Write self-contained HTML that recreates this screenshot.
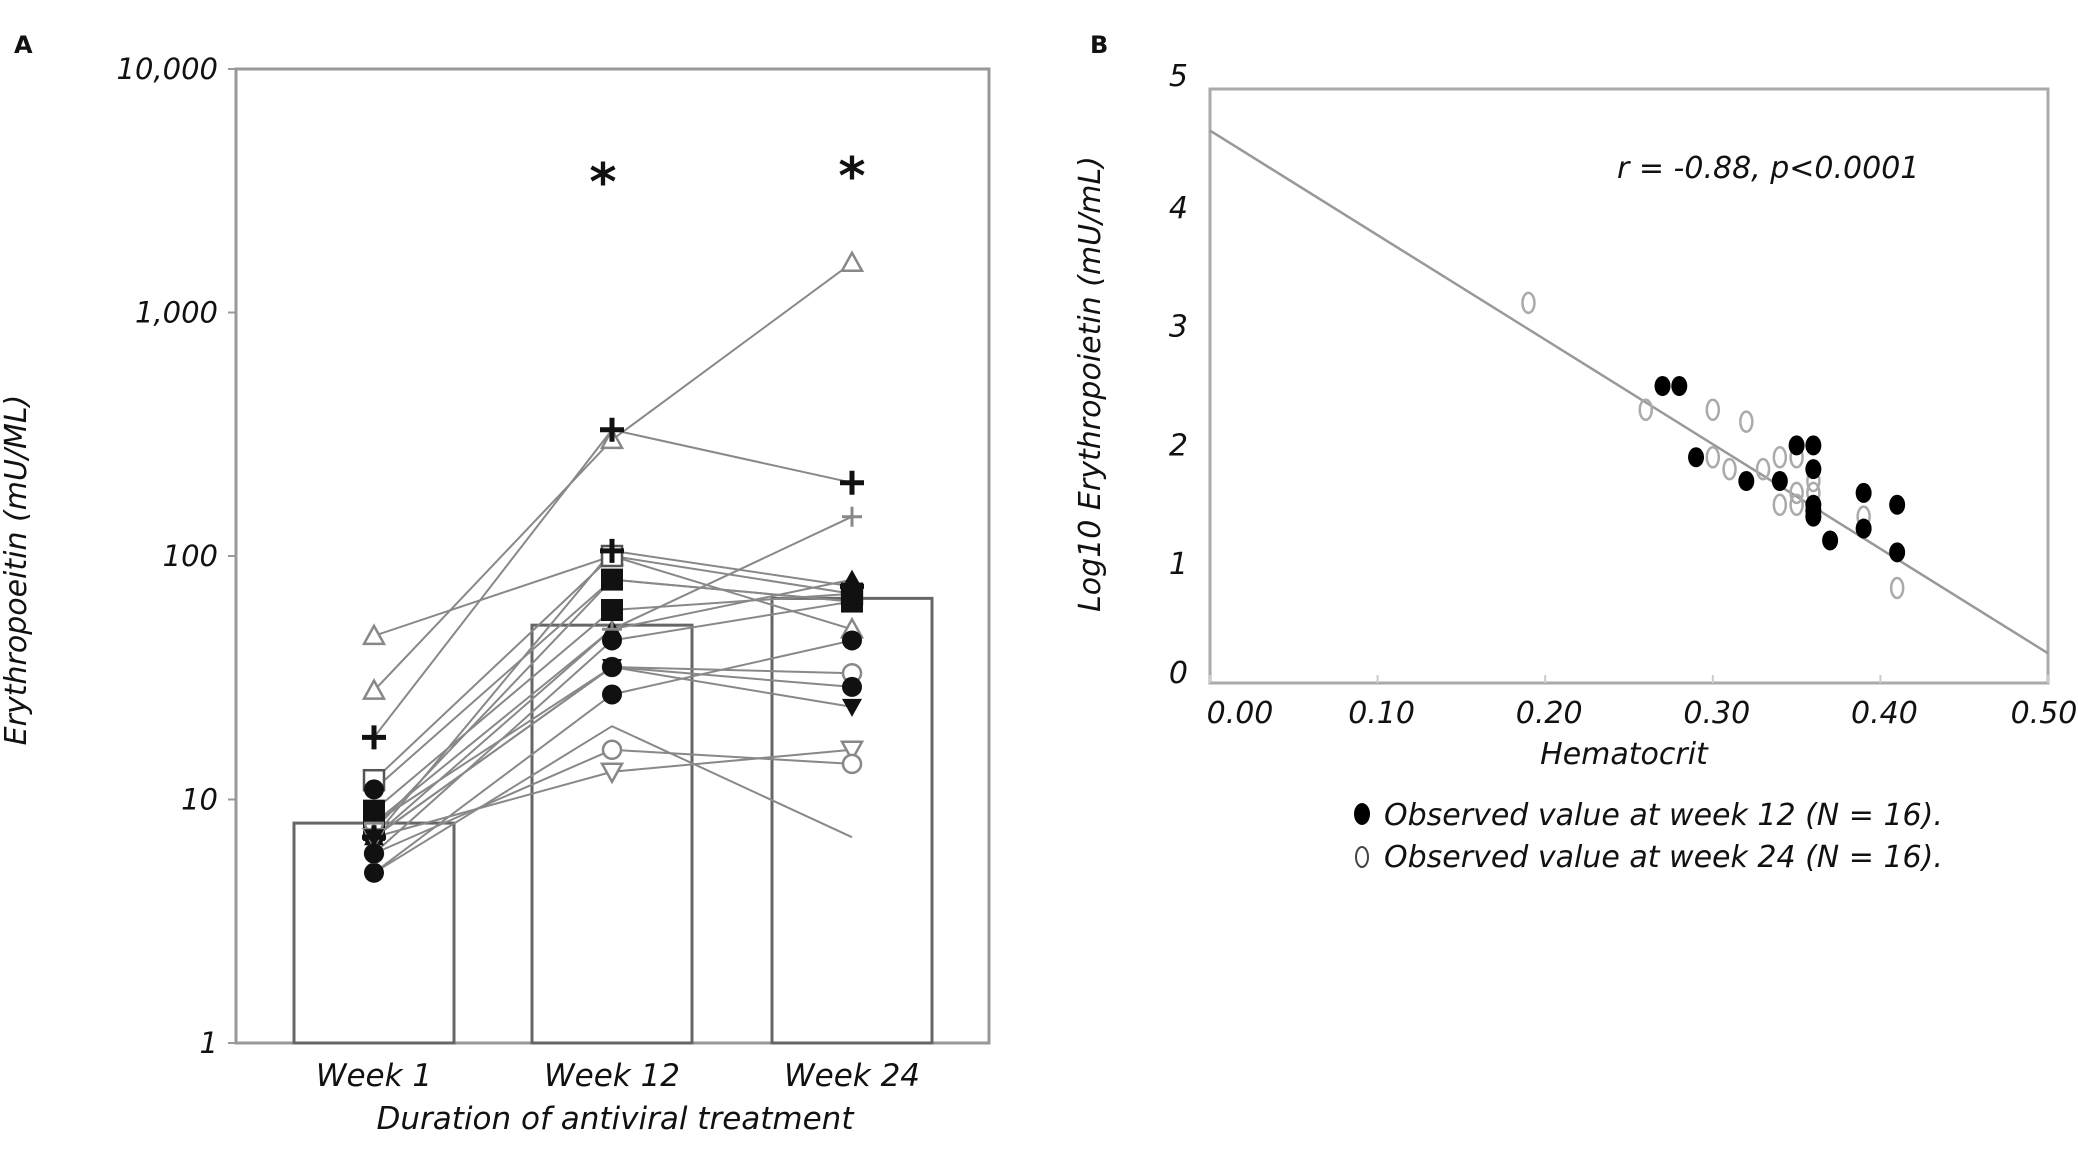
<!DOCTYPE html>
<html><head><meta charset="utf-8"><style>
html,body{margin:0;padding:0;background:#fff;}
svg{display:block;}
text{font-family:"DejaVu Sans","Liberation Sans",sans-serif;font-style:italic;fill:#111;}
</style></head><body>
<svg id="chart" width="2078" height="1157" viewBox="0 0 2078 1157" xmlns="http://www.w3.org/2000/svg">
<text x="14" y="53" font-size="24" font-weight="bold" style="font-style:normal">A</text>
<text x="1090" y="53" font-size="24" font-weight="bold" style="font-style:normal">B</text>
<g id="pa"></g>
<g id="pb"></g>
</svg>
<script>
// Panel A data
const weeks = ["Week 1","Week 12","Week 24"];
const barMeans = [8, 52, 67];
const yTicksA = [1,10,100,1000,10000];
const yTickLabelsA = ["1","10","100","1,000","10,000"];
const subjW1 = [47, 28, 18, 12, 11, 7.5, 7, 8, 7, 5, 5, 7, 6, 8, 7, 7, 6, 9];
const subjW12 = [100, 300, 330, 100, 80, 80, 50, 35, 35, 27, 20, 13, 16, 50, 105, 35, 45, 60];
const subjW24 = [50, 1600, 200, 70, 65, 65, 80, 33, 29, 45, 7, 16, 14, 145, 75, 24, 65, 70];
const subjMarker = ["otri","otri","plus","osq","fcirc","fsq","ftri","ocirc","fcirc","fcirc","none","odtri","ocirc","tplus","plus","fdtri","fcirc","fsq"];
// Panel B data
const hctFilled = [0.27,0.28,0.29,0.32,0.34,0.35,0.36,0.36,0.36,0.36,0.37,0.39,0.39,0.41,0.41,0.36];
const epoFilled = [2.5,2.5,1.9,1.7,1.7,2.0,2.0,1.8,1.5,1.4,1.2,1.6,1.3,1.5,1.1,1.45];
const hctOpen = [0.19,0.26,0.30,0.32,0.30,0.31,0.33,0.34,0.34,0.35,0.35,0.36,0.36,0.39,0.41,0.35];
const epoOpen = [3.2,2.3,2.3,2.2,1.9,1.8,1.8,1.9,1.5,1.9,1.5,1.6,1.7,1.4,0.8,1.6];
const xTicksB = [0,0.1,0.2,0.3,0.4,0.5];
const xTickLabelsB = ["0.00","0.10","0.20","0.30","0.40","0.50"];
const yTicksB = [0,1,2,3,4,5];
const regIntercept = 4.65, regSlope = -8.8;

const NS="http://www.w3.org/2000/svg";
function mk(p,tag,at,txt){const e=document.createElementNS(NS,tag);for(const k in at)e.setAttribute(k,at[k]);if(txt!==undefined)e.textContent=txt;p.appendChild(e);return e;}

// ---- Panel A
const pa=document.getElementById('pa');
const AL=236,AR=989,AT=69,AB=1043;
const ay=v=>AB-(Math.log10(v))*(AB-AT)/4;
const ax=i=>[374,612,852][i];
const barHalf=80;
mk(pa,'rect',{x:AL,y:AT,width:AR-AL,height:AB-AT,fill:'#fff',stroke:'#999','stroke-width':3,});
yTicksA.forEach((t,i)=>{
  const tk=mk(pa,'line',{x1:AL-8,x2:AL,y1:ay(t),y2:ay(t),stroke:'#999','stroke-width':2});
  
  const lb=mk(pa,'text',{x:AL-18,y:ay(t)+10,'font-size':29,'text-anchor':'end'},yTickLabelsA[i]);
  
});
barMeans.forEach((v,i)=>{
  const b=mk(pa,'rect',{x:ax(i)-barHalf,y:ay(v),width:barHalf*2,height:AB-ay(v),fill:'none',stroke:'#666','stroke-width':3});
  
});
function marker(p,type,x,y){
  const g=mk(p,'g',{});
  const s=10, dark='#111', lt='#888';
  if(type==='otri')mk(g,'polygon',{points:`${x},${y-s} ${x-s},${y+s*0.8} ${x+s},${y+s*0.8}`,fill:'#fff',stroke:lt,'stroke-width':2.5});
  else if(type==='ftri')mk(g,'polygon',{points:`${x},${y-s} ${x-s},${y+s*0.8} ${x+s},${y+s*0.8}`,fill:dark});
  else if(type==='odtri')mk(g,'polygon',{points:`${x},${y+s} ${x-s},${y-s*0.8} ${x+s},${y-s*0.8}`,fill:'#fff',stroke:lt,'stroke-width':2.5});
  else if(type==='fdtri')mk(g,'polygon',{points:`${x},${y+s} ${x-s},${y-s*0.8} ${x+s},${y-s*0.8}`,fill:dark});
  else if(type==='osq')mk(g,'rect',{x:x-s,y:y-s,width:2*s,height:2*s,fill:'#fff',stroke:'#555','stroke-width':2.5});
  else if(type==='fsq')mk(g,'rect',{x:x-s-1,y:y-s-1,width:2*s+2,height:2*s+2,fill:dark});
  else if(type==='fcirc')mk(g,'circle',{cx:x,cy:y,r:s,fill:dark});
  else if(type==='ocirc')mk(g,'circle',{cx:x,cy:y,r:s-1,fill:'#fff',stroke:lt,'stroke-width':2.5});
  else if(type==='plus'){mk(g,'path',{d:`M${x-s-2},${y}H${x+s+2}M${x},${y-s-2}V${y+s+2}`,stroke:dark,'stroke-width':5});}
  else if(type==='tplus'){mk(g,'path',{d:`M${x-s},${y}H${x+s}M${x},${y-s}V${y+s}`,stroke:lt,'stroke-width':3});}
  return g;
}
subjW1.forEach((v,i)=>{
  const vals=[v,subjW12[i],subjW24[i]];
  const pl=mk(pa,'polyline',{points:vals.map((w,j)=>ax(j)+','+ay(w)).join(' '),fill:'none',stroke:'#888','stroke-width':2});
  
});
subjW1.forEach((v,i)=>{
  const vals=[v,subjW12[i],subjW24[i]];
  vals.forEach((w,j)=>{if(subjMarker[i]!=='none'){const m=marker(pa,subjMarker[i],ax(j),ay(w));
    }});
});
weeks.forEach((w,i)=>{
  const t=mk(pa,'text',{x:ax(i),y:1086,'font-size':31,'text-anchor':'middle'},w);
  
});
mk(pa,'text',{x:603,y:200,'font-size':52,'text-anchor':'middle','font-weight':'bold',style:'font-style:normal',},'*');
mk(pa,'text',{x:852,y:194,'font-size':52,'text-anchor':'middle','font-weight':'bold',style:'font-style:normal',},'*');
mk(pa,'text',{x:615,y:1129,'font-size':31,'text-anchor':'middle',},'Duration of antiviral treatment');
mk(pa,'text',{x:0,y:0,'font-size':30,'text-anchor':'middle',transform:'translate(26,570) rotate(-90)',},'Erythropoeitin (mU/ML)');

// ---- Panel B
const pb=document.getElementById('pb');
const BL=1210,BR=2048,BT=89,BB=683;
const bx=v=>BL+v*(BR-BL)/0.5;
const by=v=>BB-v*(BB-BT)/5;
mk(pb,'rect',{x:BL,y:BT,width:BR-BL,height:BB-BT,fill:'#fff',stroke:'#aaa','stroke-width':3,});
xTicksB.forEach((t,i)=>{
  const tk=mk(pb,'line',{x1:bx(t),x2:bx(t),y1:BB,y2:BB-8,stroke:'#ccc','stroke-width':2});
  
  const lb=mk(pb,'text',{x:bx(t)+(i===0?30:(i===5?-4:4)),y:723,'font-size':30,'text-anchor':'middle'},xTickLabelsB[i]);
  
});
yTicksB.forEach(t=>{
  const lb=mk(pb,'text',{x:1188,y:by(t)+(t===0?0:(t===5?-3:10)),'font-size':30,'text-anchor':'end'},String(t));
  
});
mk(pb,'line',{x1:bx(0),y1:by(regIntercept),x2:bx(0.5),y2:by(regIntercept+regSlope*0.5),stroke:'#999','stroke-width':2.5,});
hctOpen.forEach((h,i)=>{
  const e=mk(pb,'ellipse',{cx:bx(h),cy:by(epoOpen[i]),rx:6,ry:10,fill:'none',stroke:'#aaa','stroke-width':2.5});
  
});
hctFilled.forEach((h,i)=>{
  const e=mk(pb,'ellipse',{cx:bx(h),cy:by(epoFilled[i]),rx:8,ry:10,fill:'#000'});
  
});
mk(pb,'text',{x:1617,y:178,'font-size':30,},'r = -0.88, p<0.0001');
mk(pb,'text',{x:1624,y:764,'font-size':30,'text-anchor':'middle',},'Hematocrit');
mk(pb,'text',{x:0,y:0,'font-size':30,'text-anchor':'middle',transform:'translate(1100,384) rotate(-90)',},'Log10 Erythropoietin (mU/mL)');
mk(pb,'ellipse',{cx:1362,cy:814,rx:8,ry:11,fill:'#000',});
mk(pb,'text',{x:1384,y:825,'font-size':30,},'Observed value at week 12 (N = 16).');
mk(pb,'ellipse',{cx:1362,cy:857,rx:6,ry:10,fill:'none',stroke:'#444','stroke-width':2,});
mk(pb,'text',{x:1384,y:867,'font-size':30,},'Observed value at week 24 (N = 16).');
</script>
</body></html>
